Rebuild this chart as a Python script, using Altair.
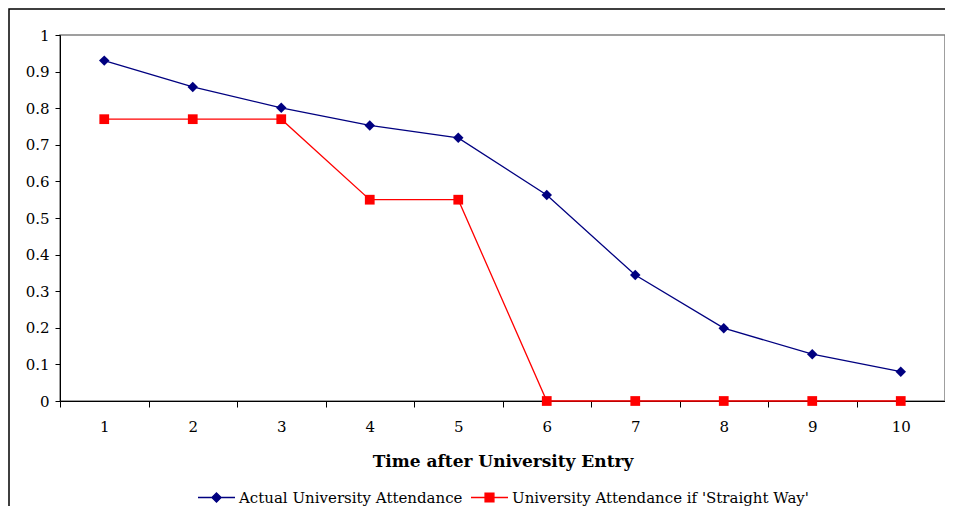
import altair as alt
import pandas as pd

# data
years = list(range(1, 11))
actual = [0.930, 0.858, 0.801, 0.753, 0.719, 0.563, 0.344, 0.199, 0.128, 0.080]
straight = [0.77, 0.77, 0.77, 0.55, 0.55, 0.0, 0.0, 0.0, 0.0, 0.0]
y_ticks = [0, 0.1, 0.2, 0.3, 0.4, 0.5, 0.6, 0.7, 0.8, 0.9, 1]

s_actual = "Actual University Attendance"
s_straight = "University Attendance if 'Straight Way'"
c_actual = "#000080"
c_straight = "#ff0000"

font = "DejaVu Serif"

df = pd.concat([
    pd.DataFrame({"time": years, "value": actual, "series": s_actual}),
    pd.DataFrame({"time": years, "value": straight, "series": s_straight}),
])

x_enc = alt.X(
    "time:O",
    scale=alt.Scale(type="band", paddingInner=0, paddingOuter=0),
    axis=alt.Axis(
        title="Time after University Entry", labelAngle=0, tickBand="extent",
        tickSize=6, labelPadding=12, titlePadding=19,
        titleFontWeight="bold", titleFontSize=17,
    ),
)
y_enc = alt.Y(
    "value:Q",
    scale=alt.Scale(domain=[0, 1], nice=False, zero=True),
    axis=alt.Axis(title=None, values=y_ticks, format="~g", tickSize=5,
                  labelPadding=6, grid=False),
)

# custom legend symbols: a line with the marker in its middle
diamond_line = "M-1,0H1M0,-0.25L0.25,0L0,0.25L-0.25,0Z"
square_line = "M-1,0H1M-0.24,-0.24H0.24V0.24H-0.24Z"


def series_layer(name, color, shape, size, symbol, legend_x):
    legend = alt.Legend(
        title=None, orient="none", legendX=legend_x, legendY=443,
        symbolType=symbol, symbolSize=1369, symbolStrokeWidth=1.3,
        symbolFillColor=color, symbolStrokeColor=color,
        labelFont=font, labelFontSize=15, labelColor="black",
        labelOffset=3, labelLimit=0, padding=0,
    )
    return (
        alt.Chart(df)
        .transform_filter(alt.datum.series == name)
        .mark_line(
            strokeWidth=1.3,
            point=alt.OverlayMarkDef(shape=shape, filled=True, size=size,
                                     opacity=1, color=color),
        )
        .encode(
            x=x_enc,
            y=y_enc,
            color=alt.Color("series:N",
                            scale=alt.Scale(domain=[name], range=[color]),
                            legend=legend),
        )
    )


blue = series_layer(s_actual, c_actual, "diamond", 110, diamond_line, 137)
red = series_layer(s_straight, c_straight, "square", 95, square_line, 410)

# outer frame round the whole chart
frame = alt.Chart(alt.Data(values=[{}])).mark_rect(
    fill=None, stroke="black", strokeWidth=1.5
).encode(
    x=alt.value(-51), x2=alt.value(2000),
    y=alt.value(-26), y2=alt.value(2000),
)

chart = (
    alt.layer(blue, red, frame)
    .resolve_scale(color="independent")
    .properties(
        width=885, height=366,
        autosize=alt.AutoSizeParams(type="none"),
        padding={"left": 52, "top": 27, "right": 0, "bottom": 105},
    )
    .configure_view(stroke="#808080", strokeWidth=1.5)
    .configure_axis(
        labelFont=font, labelFontSize=15, labelColor="black",
        titleFont=font, titleColor="black",
        domainColor="black", tickColor="black", domainWidth=1, tickWidth=1,
    )
)

chart.save("out.html", embed_options={"renderer": "svg", "actions": False})
